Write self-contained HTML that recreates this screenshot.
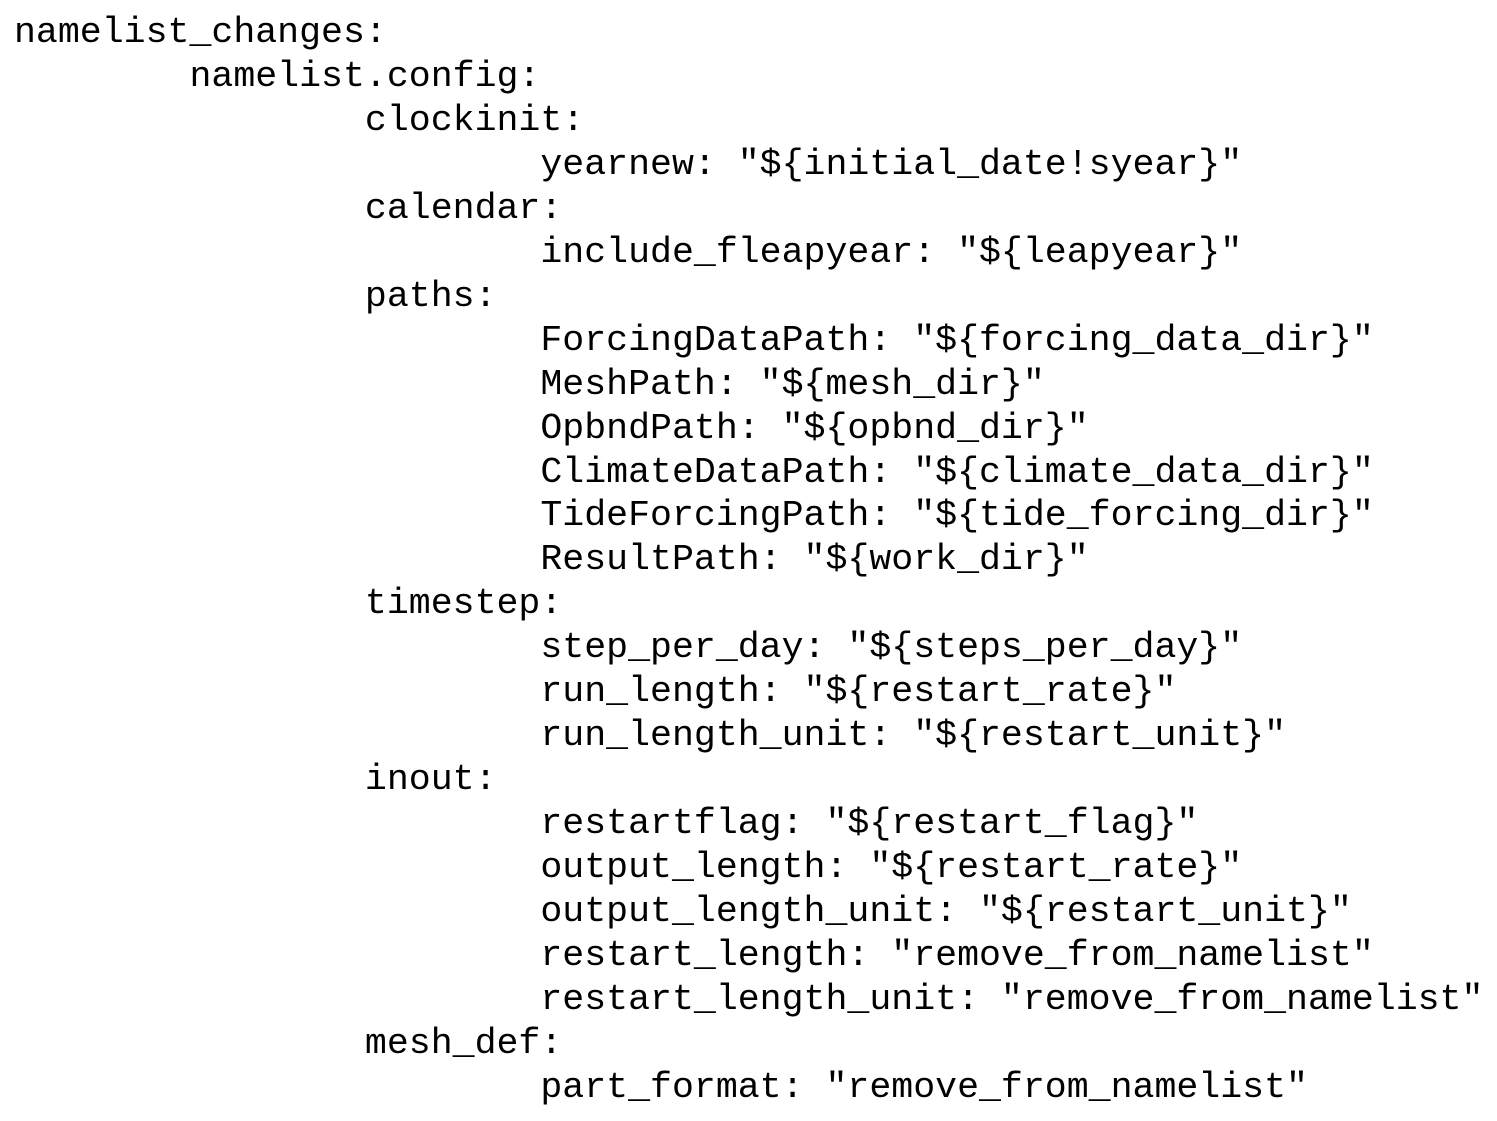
<!DOCTYPE html>
<html>
<head>
<meta charset="utf-8">
<style>
html,body{margin:0;padding:0;background:#fff;}
body{width:1497px;height:1121px;overflow:hidden;}
pre{margin:0;position:absolute;left:14px;top:11px;font-family:"Liberation Mono",monospace;font-size:36.55px;line-height:43.96px;color:#000;tab-size:8;-moz-tab-size:8;}
</style>
</head>
<body>
<pre>namelist_changes:
        namelist.config:
                clockinit:
                        yearnew: "${initial_date!syear}"
                calendar:
                        include_fleapyear: "${leapyear}"
                paths:
                        ForcingDataPath: "${forcing_data_dir}"
                        MeshPath: "${mesh_dir}"
                        OpbndPath: "${opbnd_dir}"
                        ClimateDataPath: "${climate_data_dir}"
                        TideForcingPath: "${tide_forcing_dir}"
                        ResultPath: "${work_dir}"
                timestep:
                        step_per_day: "${steps_per_day}"
                        run_length: "${restart_rate}"
                        run_length_unit: "${restart_unit}"
                inout:
                        restartflag: "${restart_flag}"
                        output_length: "${restart_rate}"
                        output_length_unit: "${restart_unit}"
                        restart_length: "remove_from_namelist"
                        restart_length_unit: "remove_from_namelist"
                mesh_def:
                        part_format: "remove_from_namelist"</pre>
</body>
</html>
